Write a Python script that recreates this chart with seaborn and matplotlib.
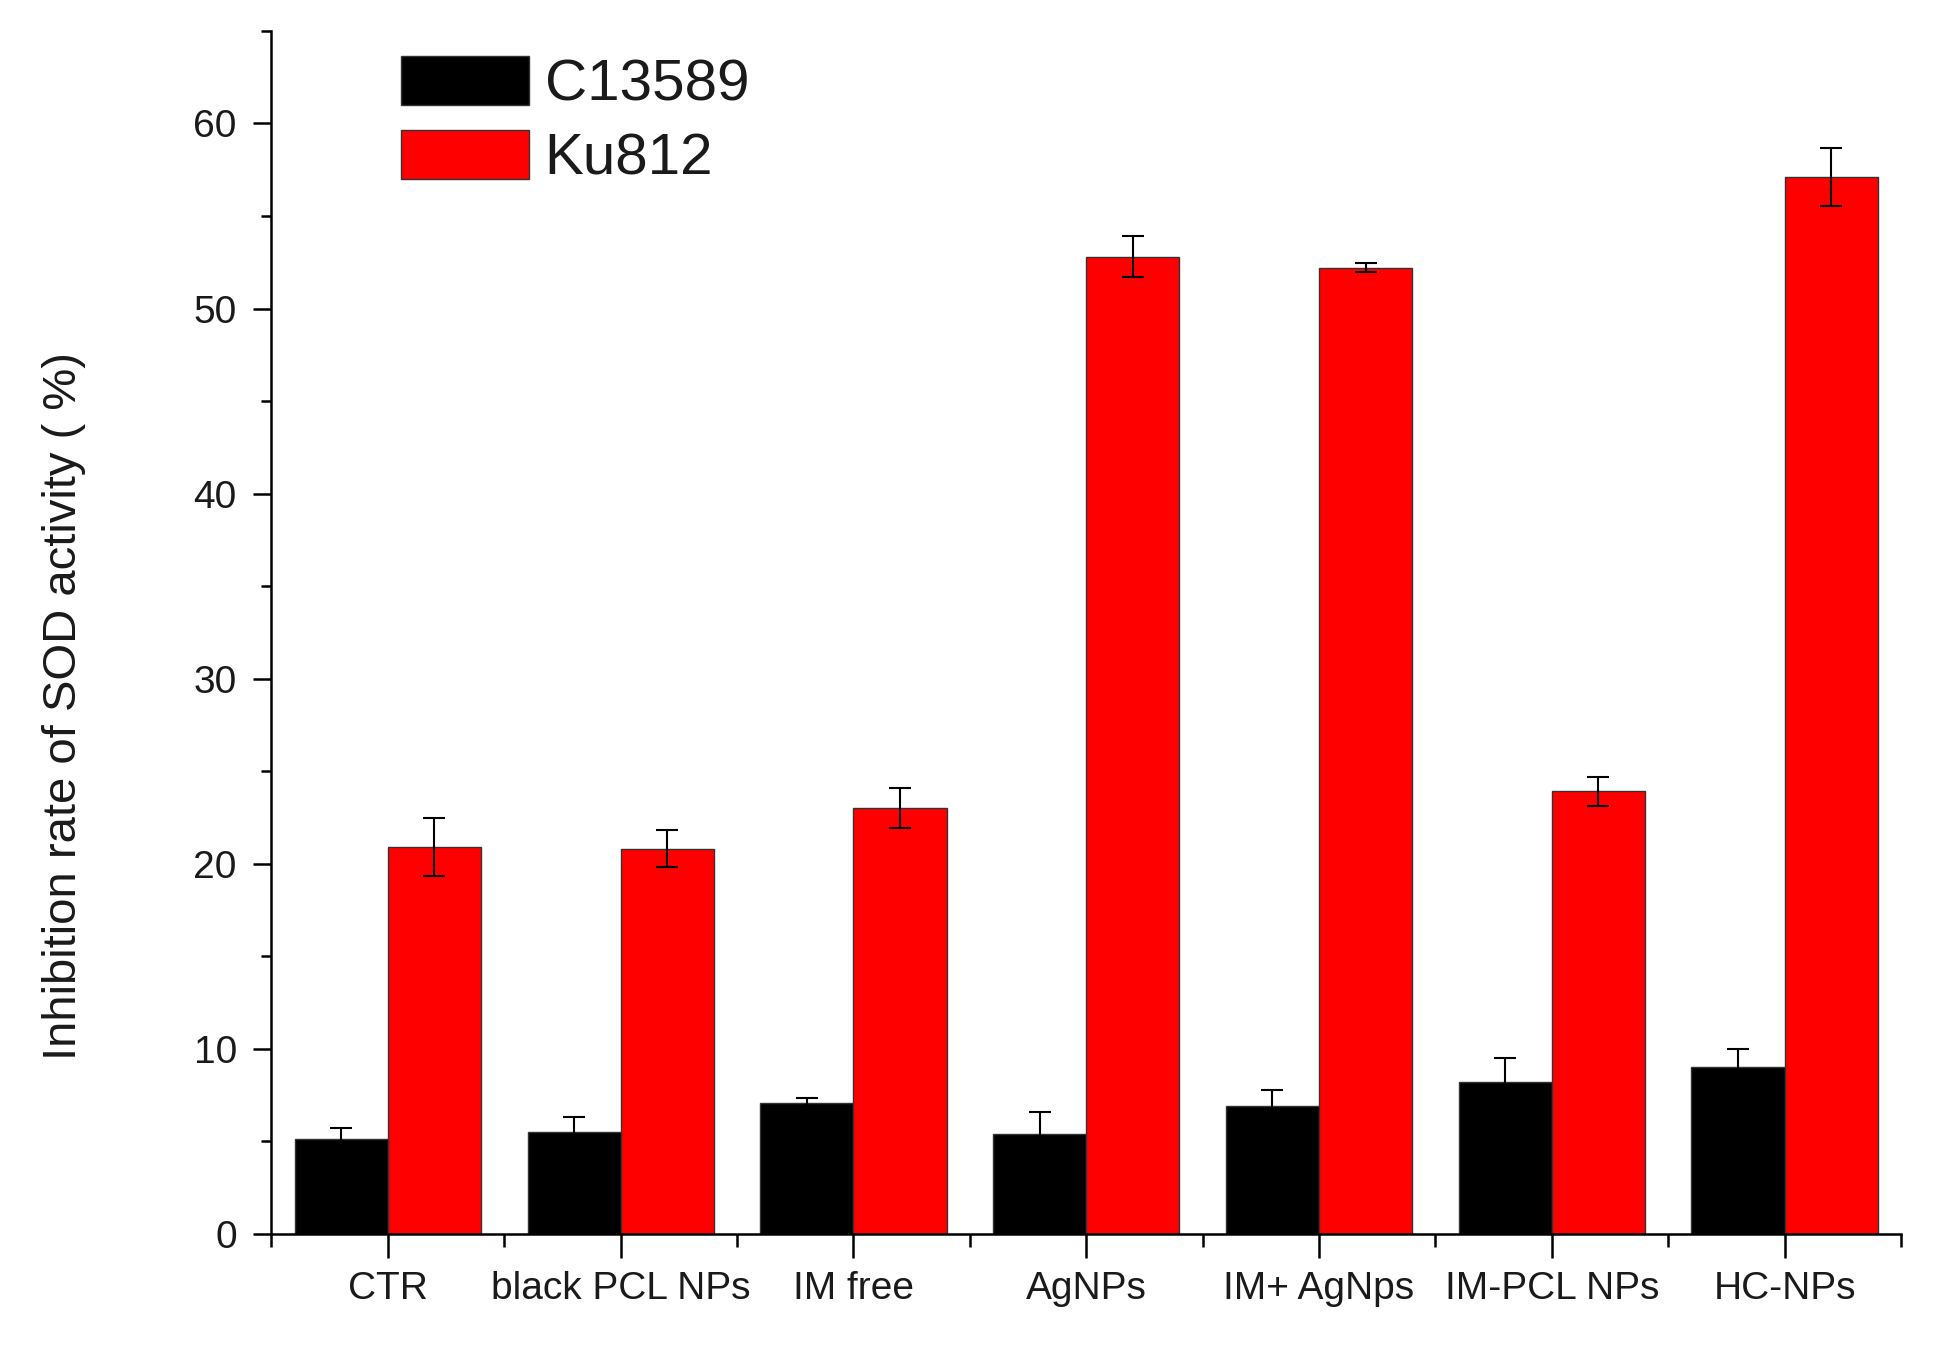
import matplotlib
matplotlib.use("Agg")
import matplotlib.pyplot as plt
import seaborn as sns
import pandas as pd
from matplotlib.ticker import MultipleLocator, FixedLocator

categories = ["CTR", "black PCL NPs", "IM free", "AgNPs", "IM+ AgNps", "IM-PCL NPs", "HC-NPs"]
series_names = ["C13589", "Ku812"]
c13589_values = [5.1, 5.5, 7.07, 5.4, 6.93, 8.2, 9.0]
c13589_errors = [0.6, 0.8, 0.25, 1.2, 0.85, 1.3, 1.0]
ku812_values = [20.9, 20.8, 23.0, 52.8, 52.2, 23.9, 57.1]
ku812_errors = [1.55, 1.0, 1.1, 1.1, 0.25, 0.8, 1.55]
y_label = "Inhibition rate of SOD activity ( %)"

sns.set_theme(style="ticks")
plt.rcParams['font.family'] = ['Liberation Sans', 'DejaVu Sans']

df = pd.DataFrame({
    "category": categories * 2,
    "series": [series_names[0]] * len(categories) + [series_names[1]] * len(categories),
    "value": c13589_values + ku812_values,
})
errors = {series_names[0]: c13589_errors, series_names[1]: ku812_errors}

fig = plt.figure(figsize=(19.35, 13.46), dpi=100)
ax = fig.add_axes([0.1403, 0.0834, 0.8421, 0.8936])

sns.barplot(data=df, x="category", y="value", hue="series", order=categories,
            hue_order=series_names, palette={"C13589": "#000000", "Ku812": "#ff0000"},
            width=0.8, errorbar=None, edgecolor="#333333", linewidth=1.0,
            saturation=1, ax=ax)

for cont, name in zip(ax.containers, series_names):
    xs = [p.get_x() + p.get_width() / 2 for p in cont.patches]
    ys = [p.get_height() for p in cont.patches]
    ax.errorbar(xs, ys, yerr=errors[name], fmt='none', ecolor='black',
                elinewidth=1.5, capsize=8, capthick=1.5, zorder=5)

ax.set_xlim(-0.5, len(categories) - 0.5)
ax.set_ylim(0, 65)
ax.yaxis.set_major_locator(MultipleLocator(10))
ax.yaxis.set_minor_locator(MultipleLocator(5))
ax.xaxis.set_minor_locator(FixedLocator([i - 0.5 for i in range(len(categories) + 1)]))

ax.tick_params(axis='y', which='major', direction='out', length=13, width=1.8,
               labelsize=28, pad=12, color='black', labelcolor='#1a1a1a')
ax.tick_params(axis='y', which='minor', direction='out', length=7, width=1.8, color='black')
ax.tick_params(axis='x', which='major', direction='out', length=17, width=1.8,
               labelsize=28, pad=10, color='black', labelcolor='#1a1a1a')
ax.tick_params(axis='x', which='minor', direction='out', length=9, width=1.8, color='black')

sns.despine(ax=ax)
for s in ['left', 'bottom']:
    ax.spines[s].set_linewidth(1.8)
    ax.spines[s].set_color('black')

ax.set_xlabel("")
ax.set_ylabel(y_label, fontsize=34, color='#1a1a1a')
ax.yaxis.set_label_coords(-0.114, 0.439)

leg = ax.legend(loc="upper left", bbox_to_anchor=(0.0795, 0.979), frameon=False,
                fontsize=42, handlelength=2.2, handleheight=0.91, labelspacing=0.3,
                handletextpad=0.26, borderpad=0, borderaxespad=0)
for t in leg.get_texts():
    t.set_color('#1a1a1a')

fig.savefig("out.png", dpi=100)
